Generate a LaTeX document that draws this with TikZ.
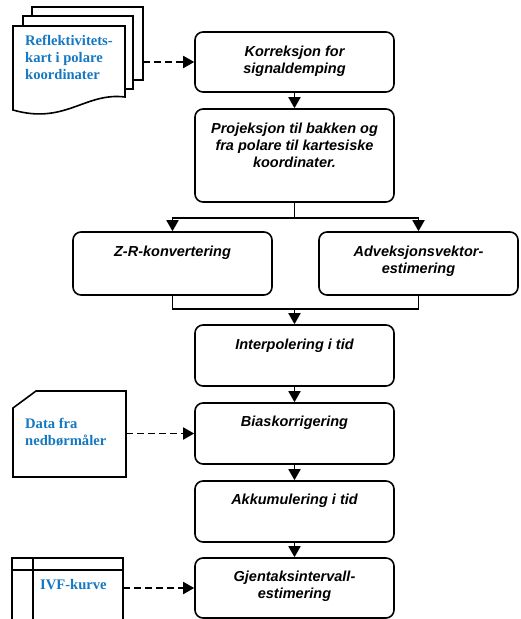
\documentclass[tikz,border=0pt]{standalone}
\usepackage{fontspec}
\setmainfont{Liberation Sans}
\newfontfamily\serifb{Liberation Serif}
\usetikzlibrary{arrows.meta,calc}
\definecolor{docblue}{RGB}{20,120,195}
\tikzset{
  box/.style={draw, line width=1.6pt, rounded corners=8pt, minimum width=199pt, inner sep=0pt, fill=white},
  boxtxt/.style={anchor=north, align=center, inner sep=0pt, font=\fontsize{14.5}{16.8}\selectfont\bfseries\itshape},
  bluetxt/.style={anchor=west, align=left, inner sep=0pt, text=docblue, font=\fontsize{14.6}{17}\selectfont\serifb\bfseries},
  shp/.style={draw, line width=1.6pt, fill=white},
  arr/.style={line width=1.8pt, -{Triangle[width=12pt,length=11pt]}},
  plainln/.style={line width=1.8pt},
  darr/.style={line width=1.8pt, dash pattern=on 7pt off 4pt, -{Triangle[width=12pt,length=11pt]}}
}
\begin{document}
\begin{tikzpicture}[x=1pt,y=-1pt]
\useasboundingbox (0,0) rectangle (521,619);
\clip (0,0) rectangle (521,619);
% boxes
\node[box, minimum height=60pt] (b1) at (294.5,62) {};
\node[box, minimum height=93pt] (b2) at (294.5,155.5) {};
\node[box, minimum height=63pt] (zr) at (172.5,263.5) {};
\node[box, minimum height=63pt] (adv) at (418.5,263.5) {};
\node[box, minimum height=61pt] (b3) at (294.5,355.5) {};
\node[box, minimum height=61pt] (b4) at (294.5,433.5) {};
\node[box, minimum height=61pt] (b5) at (294.5,511.5) {};
\node[box, minimum height=60pt] (b6) at (294.5,588) {};
% texts
\node[boxtxt] (t1) at ($(b1.north)+(0,15)$) {Korreksjon for\\signaldemping};
\node[boxtxt] (t2) at ($(b2.north)+(0,15)$) {Projeksjon til bakken og\\fra polare til kartesiske\\koordinater.};
\node[boxtxt] (t3) at ($(zr.north)+(0,15)$) {Z-R-konvertering};
\node[boxtxt] (t4) at ($(adv.north)+(0,15)$) {Adveksjonsvektor-\\estimering};
\node[boxtxt] (t5) at ($(b3.north)+(0,15)$) {Interpolering i tid};
\node[boxtxt] (t6) at ($(b4.north)+(0,14)$) {Biaskorrigering};
\node[boxtxt] (t7) at ($(b5.north)+(0,14)$) {Akkumulering i tid};
\node[boxtxt] (t8) at ($(b6.north)+(0,14)$) {Gjentaksintervall-\\estimering};
% multi document
\draw[shp] (32,7) rectangle (143,80);
\draw[shp] (23,16) rectangle (133,89);
\draw[shp] (13,26) -- (125,26) -- (125,97) .. controls (85,92) and (65,125) .. (13,110) -- cycle;
\node[bluetxt] (doc) at (25,57) {Reflektivitets-\\kart i polare\\koordinater};
\coordinate (docR) at (143,62);
% card
\draw[shp] (13,408) -- (36,391) -- (126,391) -- (126,477) -- (13,477) -- cycle;
\node[bluetxt] (card) at (25,432) {Data fra\\nedbørmåler};
\coordinate (cardR) at (126,433.5);
% IVF internal storage
\draw[shp] (12,558) rectangle (123,630);
\draw[line width=1.6pt] (12,570) -- (123,570) (33,558) -- (33,630);
\node[bluetxt] (ivf) at (40,585) {IVF-kurve};
\coordinate (ivfR) at (123,588);
% connectors
\draw[arr] (b1) -- (b2);
\coordinate (split) at ($(b2.south)+(0,15)$);
\draw[plainln] (b2.south) -- (split);
\draw[arr] (split) -| (zr.north);
\draw[arr] (split) -| (adv.north);
\coordinate (merge) at (b3.north |- 0,309);
\draw[plainln] (zr.south) |- (merge) -| (adv.south);
\draw[arr] (merge) -- (b3.north);
\draw[arr] (b3) -- (b4);
\draw[arr] (b4) -- (b5);
\draw[arr] (b5) -- (b6);
\draw[darr] (docR) -- (b1.west);
\draw[darr] (cardR) -- (b4.west);
\draw[darr] (ivfR) -- (b6.west);
\end{tikzpicture}
\end{document}
